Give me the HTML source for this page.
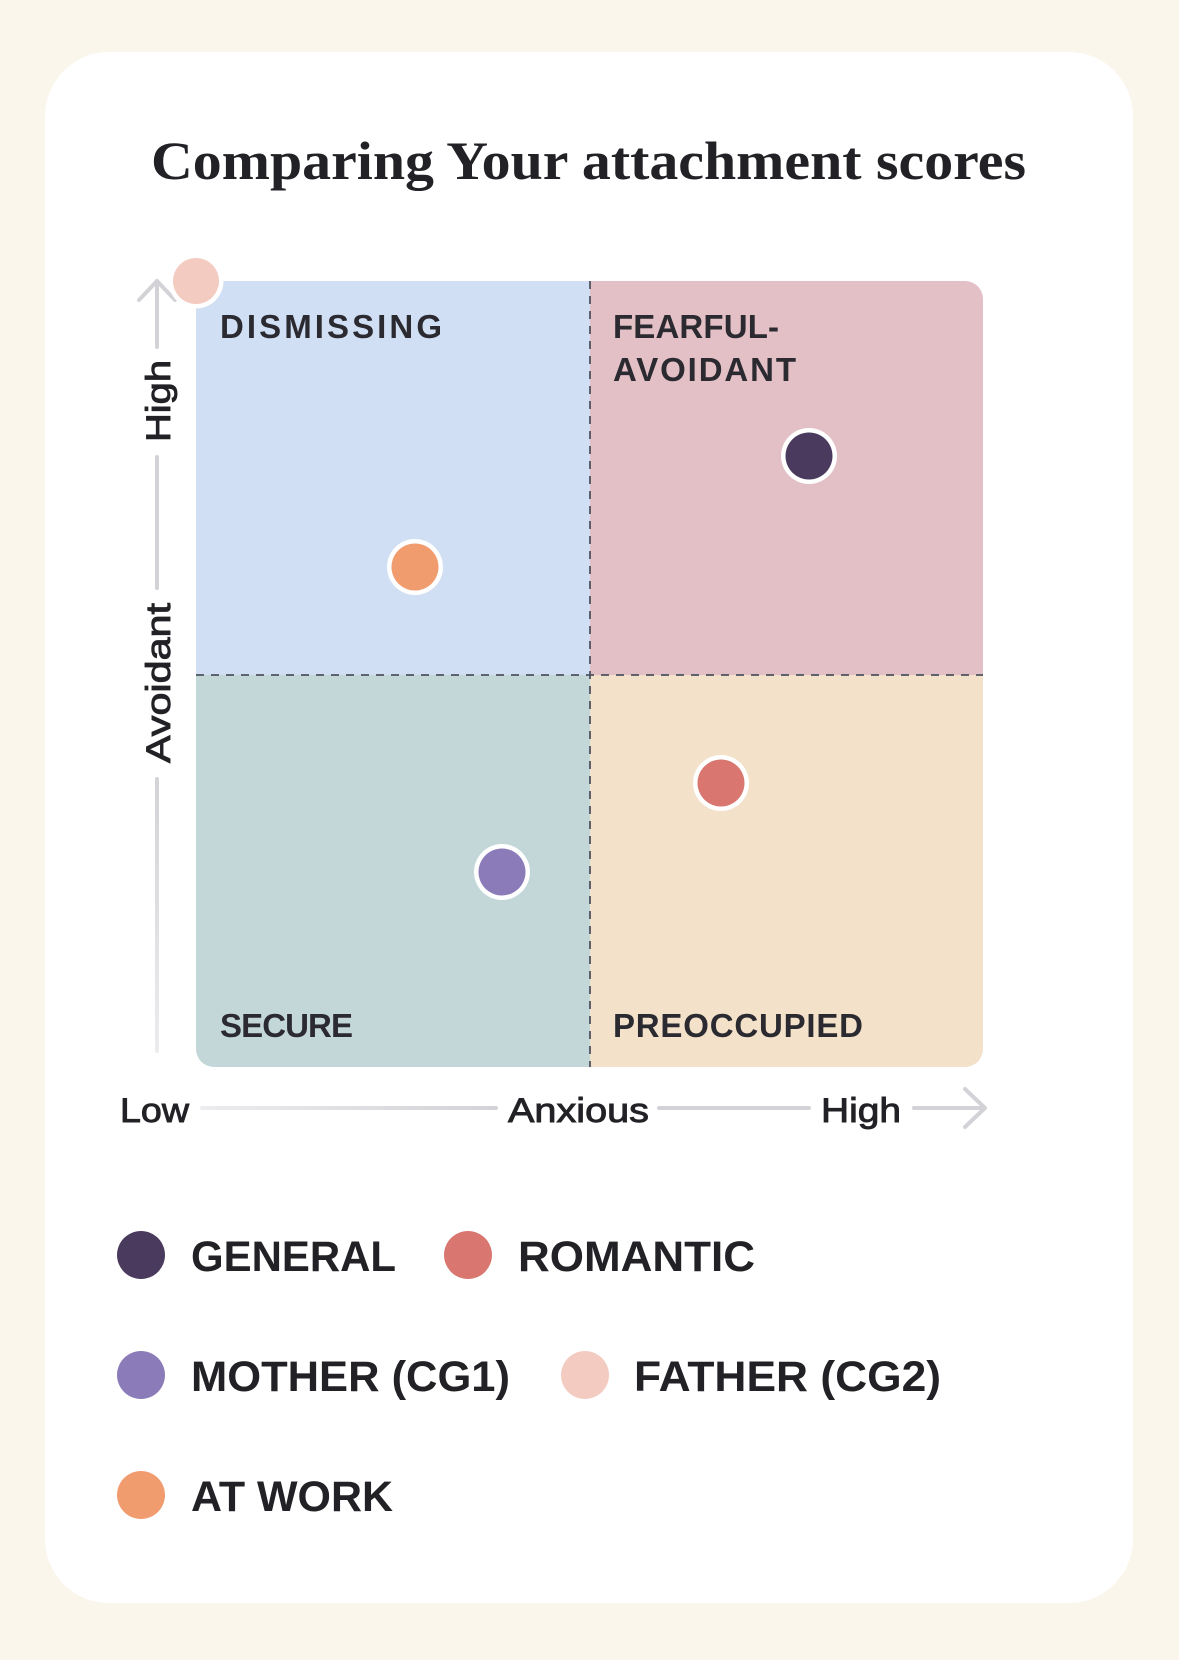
<!DOCTYPE html>
<html>
<head>
<meta charset="utf-8">
<style>
  html, body { margin: 0; padding: 0; background: #faf6ec; }
  body { width: 1179px; height: 1660px; overflow: hidden; }
  svg { display: block; }
</style>
</head>
<body>
<svg width="1179" height="1660" viewBox="0 0 1179 1660" xmlns="http://www.w3.org/2000/svg">
  <defs>
    <clipPath id="plotclip">
      <rect x="196" y="281" width="787" height="786" rx="18" ry="18"/>
    </clipPath>
    <linearGradient id="yfade" x1="0" y1="0" x2="0" y2="1">
      <stop offset="0" stop-color="#d3d3d7"/>
      <stop offset="1" stop-color="#ececee"/>
    </linearGradient>
    <linearGradient id="xfade" x1="0" y1="0" x2="1" y2="0">
      <stop offset="0" stop-color="#ececee"/>
      <stop offset="1" stop-color="#d3d3d7"/>
    </linearGradient>
  </defs>

  <rect x="0" y="0" width="1179" height="1660" fill="#faf6ec"/>
  <!-- card -->
  <rect x="45" y="52" width="1088" height="1551" rx="64" ry="64" fill="#ffffff"/>

  <!-- title -->
  <text x="151" y="179" font-family="'Liberation Serif', serif" font-weight="bold" font-size="54" fill="#222226" textLength="875" lengthAdjust="spacingAndGlyphs">Comparing Your attachment scores</text>

  <!-- quadrants -->
  <g clip-path="url(#plotclip)">
    <rect x="196" y="281" width="394" height="394" fill="#d0dff4"/>
    <rect x="590" y="281" width="393" height="394" fill="#e3c0c6"/>
    <rect x="196" y="675" width="394" height="392" fill="#c3d7d9"/>
    <rect x="590" y="675" width="393" height="392" fill="#f3e1c9"/>
  </g>
  <!-- dashed dividers -->
  <line x1="590" y1="281" x2="590" y2="1067" stroke="#4e5360" stroke-width="1.8" stroke-dasharray="8 7"/>
  <line x1="196" y1="675" x2="983" y2="675" stroke="#4e5360" stroke-width="1.8" stroke-dasharray="8 7"/>

  <!-- quadrant labels -->
  <g font-family="'Liberation Sans', sans-serif" font-weight="bold" font-size="33" fill="#2a2a30">
    <text x="220" y="338" textLength="222" lengthAdjust="spacing">DISMISSING</text>
    <text x="613" y="338" textLength="166" lengthAdjust="spacing">FEARFUL-</text>
    <text x="613" y="381" textLength="183" lengthAdjust="spacing">AVOIDANT</text>
    <text x="220" y="1037" textLength="133" lengthAdjust="spacing">SECURE</text>
    <text x="613" y="1037" textLength="250" lengthAdjust="spacing">PREOCCUPIED</text>
  </g>

  <!-- y axis -->
  <g stroke="#d3d3d7" stroke-width="4" stroke-linecap="round" fill="none">
    <line x1="157" y1="281" x2="157" y2="347"/>
    <polyline points="139,300 157,281 175,300" stroke-linejoin="round"/>
    <line x1="157" y1="457" x2="157" y2="588"/>
  </g>
  <rect x="155" y="777" width="4" height="276" rx="2" fill="url(#yfade)"/>

  <g font-family="'Liberation Sans', sans-serif" font-size="34" fill="#222226" stroke="#222226" stroke-width="0.9">
    <text transform="translate(170,442) rotate(-90)" x="0" y="0" textLength="82" lengthAdjust="spacingAndGlyphs">High</text>
    <text transform="translate(170,763) rotate(-90)" x="0" y="0" textLength="160" lengthAdjust="spacingAndGlyphs">Avoidant</text>
  </g>

  <!-- x axis -->
  <rect x="200" y="1106" width="298" height="4" rx="2" fill="url(#xfade)"/>
  <g stroke="#d3d3d7" stroke-width="4" stroke-linecap="round" fill="none">
    <line x1="659" y1="1108" x2="809" y2="1108"/>
    <line x1="914" y1="1108" x2="984" y2="1108"/>
    <polyline points="965,1089 985,1108 965,1127" stroke-linejoin="round"/>
  </g>
  <g font-family="'Liberation Sans', sans-serif" font-size="34" fill="#222226" stroke="#222226" stroke-width="0.9">
    <text x="120" y="1122" textLength="69" lengthAdjust="spacingAndGlyphs">Low</text>
    <text x="508" y="1122" textLength="141" lengthAdjust="spacingAndGlyphs">Anxious</text>
    <text x="821" y="1122" textLength="80" lengthAdjust="spacingAndGlyphs">High</text>
  </g>

  <!-- data points -->
  <g>
    <circle cx="196" cy="281" r="27.5" fill="#ffffff"/>
    <circle cx="196" cy="281" r="23" fill="#f3cbc0"/>

    <circle cx="809" cy="456" r="28" fill="#ffffff"/>
    <circle cx="809" cy="456" r="23.5" fill="#4a3a5e"/>

    <circle cx="415" cy="567" r="28" fill="#ffffff"/>
    <circle cx="415" cy="567" r="23.5" fill="#f09c6e"/>

    <circle cx="721" cy="783" r="28" fill="#ffffff"/>
    <circle cx="721" cy="783" r="23.5" fill="#d97670"/>

    <circle cx="502" cy="872" r="28" fill="#ffffff"/>
    <circle cx="502" cy="872" r="23.5" fill="#8b7bb9"/>
  </g>

  <!-- legend -->
  <circle cx="141" cy="1255" r="24" fill="#4a3a5e"/>
  <circle cx="468" cy="1255" r="24" fill="#d97670"/>
  <circle cx="141" cy="1375" r="24" fill="#8b7bb9"/>
  <circle cx="585" cy="1375" r="24" fill="#f3cbc0"/>
  <circle cx="141" cy="1495" r="24" fill="#f09c6e"/>
  <g font-family="'Liberation Sans', sans-serif" font-weight="bold" font-size="43" fill="#222226">
    <text x="191" y="1271" textLength="205" lengthAdjust="spacingAndGlyphs">GENERAL</text>
    <text x="518" y="1271" textLength="237" lengthAdjust="spacingAndGlyphs">ROMANTIC</text>
    <text x="191" y="1391" textLength="319" lengthAdjust="spacingAndGlyphs">MOTHER (CG1)</text>
    <text x="634" y="1391" textLength="307" lengthAdjust="spacingAndGlyphs">FATHER (CG2)</text>
    <text x="191" y="1511" textLength="202" lengthAdjust="spacingAndGlyphs">AT WORK</text>
  </g>
</svg>
</body>
</html>
